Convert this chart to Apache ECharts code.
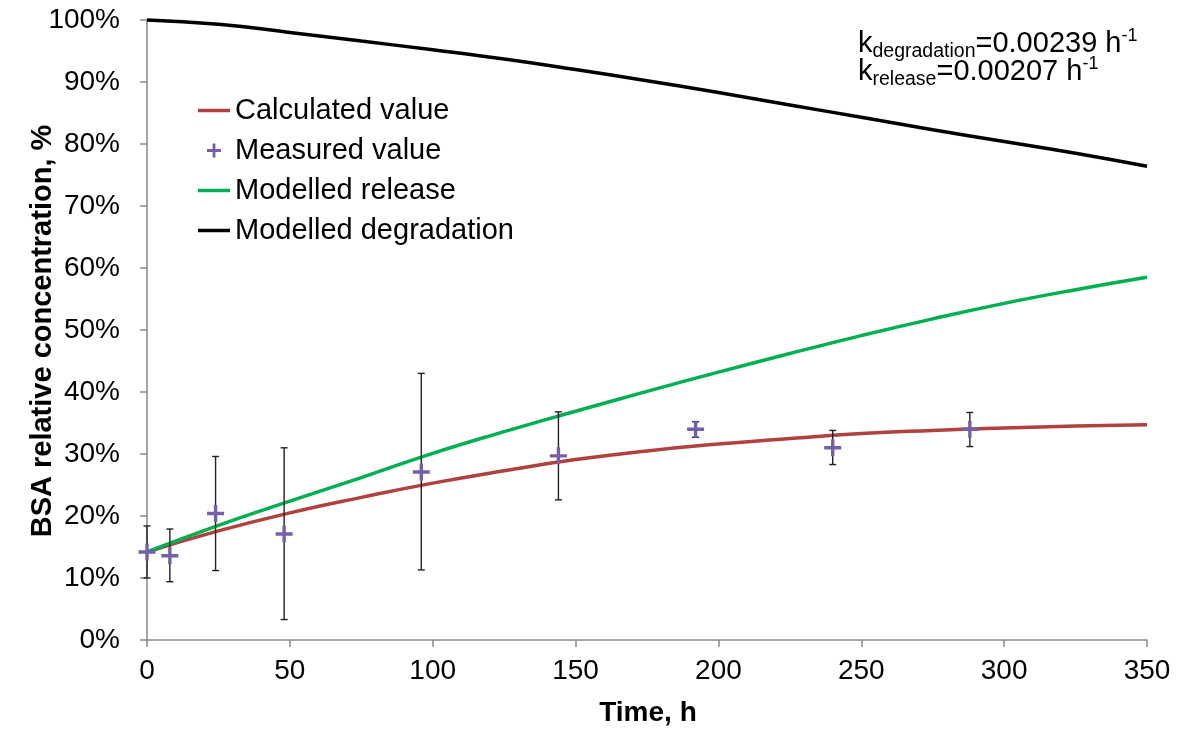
<!DOCTYPE html>
<html>
<head>
<meta charset="utf-8">
<script src="https://cdn.jsdelivr.net/npm/echarts@6/dist/echarts.min.js"></script>
<style>
html,body{margin:0;padding:0;background:#fff;}
#main{width:1180px;height:731px;}
</style>
</head>
<body>
<div id="main"></div>
<script>
// Time axis for the modelled curves (h)
var modelTimes = [0,25,50,75,100,125,150,175,200,225,250,275,300,325,350];
// Calculated value (%)
var calculated = [14.2,17.6,20.5,23.0,25.3,27.3,29.1,30.5,31.6,32.5,33.3,33.8,34.2,34.5,34.7];
// Modelled release (%)
var modelledRelease = [14.2,18.5,22.4,26.2,30.1,33.6,36.9,40.1,43.2,46.2,49.1,51.8,54.3,56.5,58.5];
// Modelled degradation (%)
var modelledDegradation = [100,99.3,98.0,96.6,95.2,93.7,92.0,90.2,88.3,86.3,84.3,82.3,80.4,78.5,76.4];
// Measured values (%)
var measuredTimes = [0,8,24,48,96,144,192,240,288];
var measured = [14.2,13.6,20.4,17.1,27.1,29.7,34.0,31.0,34.0];
var measuredLow = [10.0,9.4,11.2,3.3,11.3,22.6,32.7,28.3,31.2];
var measuredHigh = [18.4,17.9,29.6,31.0,43.0,36.8,35.2,33.8,36.7];
// Rate constant annotation lines: [symbol, subscript, value text, superscript]
var rateLines = [
  ['k', 'degradation', '=0.00239 h', '-1'],
  ['k', 'release', '=0.00207 h', '-1']
];

var FONT = '"Liberation Sans", Arial, sans-serif';
var PLUS = 'path://M6.8,0 L10.2,0 L10.2,6.8 L17,6.8 L17,10.2 L10.2,10.2 L10.2,17 L6.8,17 L6.8,10.2 L0,10.2 L0,6.8 L6.8,6.8 Z';
var LEGEND_LINE = 'path://M0,0 M0,5.25 L32,5.25 L32,8.75 L0,8.75 Z M32,14';

function pairs(xs, ys){ return xs.map(function(x,i){ return [x, ys[i]]; }); }

var measureCtx = document.createElement('canvas').getContext('2d');
function textWidth(t, font){ measureCtx.font = font; return measureCtx.measureText(t).width; }

// Build the k annotation as text pieces (main / subscript / superscript)
var MAIN_FONT = '29px ' + FONT, SUB_FONT = '19.5px ' + FONT, SUP_FONT = '18px ' + FONT;
var annot = [];
rateLines.forEach(function(parts, li){
  var cy = 44 + li * 28;
  var x = 858;
  var pieces = [
    {t:parts[0], f:MAIN_FONT, dy:0},
    {t:parts[1], f:SUB_FONT, dy:7.5},
    {t:parts[2], f:MAIN_FONT, dy:0},
    {t:parts[3], f:SUP_FONT, dy:-7.5}
  ];
  pieces.forEach(function(p){
    annot.push({type:'text', x:x, y:cy + p.dy, silent:true,
      style:{text:p.t, font:p.f, fill:'#000', align:'left', verticalAlign:'middle'}});
    x += textWidth(p.t, p.f);
  });
});

var chart = echarts.init(document.getElementById('main'), null, {renderer:'canvas'});
var option = {
  backgroundColor: '#fff',
  animation: false,
  grid: {left:147, right:33, top:20, bottom:91, containLabel:false},
  xAxis: {
    type:'value', min:0, max:350, interval:50,
    axisLine:{show:true, lineStyle:{color:'#898989', width:1.5}},
    axisTick:{show:true, length:7, lineStyle:{color:'#898989', width:1.5}},
    axisLabel:{color:'#000', fontSize:28, fontFamily:FONT, margin:17},
    splitLine:{show:false}
  },
  yAxis: {
    type:'value', min:0, max:100, interval:10,
    axisLine:{show:true, lineStyle:{color:'#898989', width:1.5}},
    axisTick:{show:true, length:7, lineStyle:{color:'#898989', width:1.5}},
    axisLabel:{color:'#000', fontSize:28, fontFamily:FONT, margin:27, formatter:'{value}%'},
    splitLine:{show:false}
  },
  legend: {
    orient:'vertical', left:193, top:91,
    itemWidth:32, itemHeight:14, itemGap:11,
    textStyle:{color:'#000', fontSize:29, fontFamily:FONT, lineHeight:29},
    data:[
      {name:'Calculated value', icon:LEGEND_LINE, itemStyle:{color:'#B0413E', borderWidth:0}},
      {name:'Measured value', icon:PLUS, itemStyle:{color:'#7560A8', borderWidth:0}},
      {name:'Modelled release', icon:LEGEND_LINE, itemStyle:{color:'#00B050', borderWidth:0}},
      {name:'Modelled degradation', icon:LEGEND_LINE, itemStyle:{color:'#000', borderWidth:0}}
    ]
  },
  graphic: [
    {type:'text', x:43, y:331, rotation:Math.PI/2,
     style:{text:'BSA relative concentration, %', font:'bold 29px ' + FONT, fill:'#000', align:'center', verticalAlign:'middle'}},
    {type:'text', x:648, y:713,
     style:{text:'Time, h', font:'bold 28px ' + FONT, fill:'#000', align:'center', verticalAlign:'middle'}}
  ].concat(annot),
  series: [
    {name:'Calculated value', type:'line', data:pairs(modelTimes, calculated), smooth:true, showSymbol:false, symbol:'none', clip:false,
     lineStyle:{color:'#B0413E', width:3.5}, itemStyle:{color:'#B0413E'}, z:3},
    {name:'Measured value', type:'scatter', data:pairs(measuredTimes, measured), symbol:PLUS, symbolSize:17,
     itemStyle:{color:'#7560A8', opacity:1}, z:6},
    {name:'Modelled release', type:'line', data:pairs(modelTimes, modelledRelease), smooth:true, showSymbol:false, symbol:'none', clip:false,
     lineStyle:{color:'#00B050', width:3.5}, itemStyle:{color:'#00B050'}, z:3},
    {name:'Modelled degradation', type:'line', data:pairs(modelTimes, modelledDegradation), smooth:true, showSymbol:false, symbol:'none', clip:false,
     lineStyle:{color:'#000', width:3.5}, itemStyle:{color:'#000'}, z:3},
    {name:'errors', type:'custom', z:5, clip:false,
     data: measuredTimes.map(function(t,i){ return [t, measuredLow[i], measuredHigh[i]]; }),
     encode:{x:0, y:[1,2]},
     renderItem:function(params, api){
       var lo = api.coord([api.value(0), api.value(1)]);
       var hi = api.coord([api.value(0), api.value(2)]);
       var hw = 3.5;
       var st = {stroke:'#222', lineWidth:1.4};
       return {type:'group', children:[
         {type:'line', shape:{x1:lo[0], y1:lo[1], x2:hi[0], y2:hi[1]}, style:st},
         {type:'line', shape:{x1:lo[0]-hw, y1:lo[1], x2:lo[0]+hw, y2:lo[1]}, style:st},
         {type:'line', shape:{x1:hi[0]-hw, y1:hi[1], x2:hi[0]+hw, y2:hi[1]}, style:st}
       ]};
     }}
  ]
};
chart.setOption(option);
</script>
</body>
</html>
